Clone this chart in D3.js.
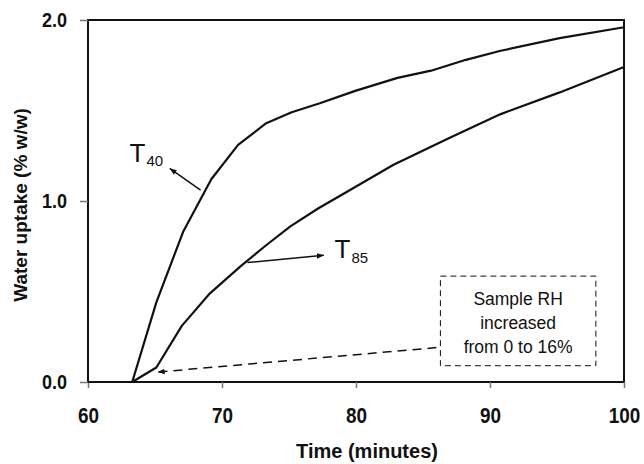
<!DOCTYPE html>
<html>
<head>
<meta charset="utf-8">
<script src="https://cdn.jsdelivr.net/npm/d3@7"></script>
<style>
  body { margin: 0; background: #fff; }
  svg { display: block; font-family: "Liberation Sans", Arial, sans-serif; }
</style>
</head>
<body>
<div id="chart"></div>
<script>
(function () {
  // ---- data ----
  const xTicks = [60, 70, 80, 90, 100];
  const yTicks = [0, 1, 2];

  const t40Time  = [60, 63.3, 65.1, 67.1, 69.2, 71.2, 73.3, 75.2, 77.3, 80, 83.1, 85.6, 88.2, 90.8, 95.2, 100];
  const t40Value = [0, 0, 0.44, 0.83, 1.12, 1.31, 1.43, 1.49, 1.54, 1.61, 1.68, 1.72, 1.78, 1.83, 1.90, 1.96];

  const t85Time  = [63.3, 65.1, 67.0, 69.1, 71.4, 73.2, 75.1, 77.2, 79.3, 82.8, 87.0, 90.8, 95.2, 100];
  const t85Value = [0, 0.08, 0.31, 0.49, 0.64, 0.75, 0.86, 0.96, 1.05, 1.20, 1.35, 1.48, 1.60, 1.74];

  const boxLines = ["Sample RH", "increased", "from 0 to 16%"];

  // ---- layout ----
  const W = 644, H = 464;
  const margin = { top: 20, right: 20, bottom: 82, left: 88 };
  const iw = W - margin.left - margin.right;
  const ih = H - margin.top - margin.bottom;

  const x = d3.scaleLinear().domain([60, 100]).range([0, iw]);
  const y = d3.scaleLinear().domain([0, 2]).range([ih, 0]);

  const svg = d3.select("#chart").append("svg")
    .attr("width", W).attr("height", H);

  const defs = svg.append("defs");
  defs.append("marker")
    .attr("id", "arrow")
    .attr("viewBox", "0 0 10 10")
    .attr("refX", 10).attr("refY", 5)
    .attr("markerWidth", 7).attr("markerHeight", 7)
    .attr("markerUnits", "userSpaceOnUse")
    .attr("orient", "auto")
    .append("path")
    .attr("d", "M0,1 L10,5 L0,9 Z")
    .attr("fill", "#111");

  const g = svg.append("g")
    .attr("transform", `translate(${margin.left},${margin.top})`);

  // squeeze text horizontally around its anchor (narrow bold look)
  function condense(sel, k) {
    sel.each(function () {
      const t = d3.select(this);
      const tx = +t.attr("x") || 0;
      const ty = +t.attr("y") || 0;
      t.attr("transform", `translate(${tx},${ty}) scale(${k},1) translate(${-tx},${-ty})`);
    });
  }

  // ---- frame ----
  g.append("rect")
    .attr("x", 0).attr("y", 0)
    .attr("width", iw).attr("height", ih)
    .attr("fill", "none")
    .attr("stroke", "#111")
    .attr("stroke-width", 2);

  // ---- axes ----
  const xAxis = g.append("g")
    .attr("transform", `translate(0,${ih})`)
    .call(d3.axisBottom(x).tickValues(xTicks).tickSize(6).tickPadding(19).tickFormat(d3.format("d")));
  xAxis.select(".domain").remove();
  xAxis.selectAll(".tick line").attr("stroke", "#777").attr("stroke-width", 1.5);
  xAxis.selectAll("text")
    .attr("fill", "#111")
    .style("font-size", "22px")
    .style("font-weight", "bold")
    .call(condense, 0.86);

  const yAxis = g.append("g")
    .call(d3.axisLeft(y).tickValues(yTicks).tickSize(8).tickPadding(13).tickFormat(d3.format(".1f")));
  yAxis.select(".domain").remove();
  yAxis.selectAll(".tick line").attr("stroke", "#777").attr("stroke-width", 1.5);
  yAxis.selectAll("text")
    .attr("fill", "#111")
    .style("font-size", "21px")
    .style("font-weight", "bold")
    .call(condense, 0.86);

  // ---- axis titles ----
  svg.append("text")
    .attr("x", margin.left + iw / 2 + 11)
    .attr("y", 458)
    .attr("text-anchor", "middle")
    .style("font-size", "20px")
    .style("font-weight", "bold")
    .attr("fill", "#111")
    .text("Time (minutes)");

  svg.append("text")
    .attr("transform", `translate(27,${margin.top + ih / 2 + 4}) rotate(-90)`)
    .attr("text-anchor", "middle")
    .style("font-size", "19px")
    .style("font-weight", "bold")
    .attr("fill", "#111")
    .text("Water uptake (% w/w)");

  // ---- curves ----
  const line = d3.line().x(d => x(d[0])).y(d => y(d[1]));
  const series = [
    d3.zip(t40Time, t40Value),
    d3.zip(t85Time, t85Value)
  ];
  g.selectAll(".curve")
    .data(series)
    .enter()
    .append("path")
    .attr("class", "curve")
    .attr("d", line)
    .attr("fill", "none")
    .attr("stroke", "#111")
    .attr("stroke-width", 2.2)
    .attr("stroke-linejoin", "round");

  // ---- annotations ----
  function arrow(x1, y1, x2, y2, dashed) {
    g.append("line")
      .attr("x1", x(x1)).attr("y1", y(y1))
      .attr("x2", x(x2)).attr("y2", y(y2))
      .attr("stroke", "#111")
      .attr("stroke-width", 1.5)
      .attr("stroke-dasharray", dashed ? "9,6" : null)
      .attr("marker-end", "url(#arrow)");
  }

  function subLabel(tx, ty, sub, dy) {
    const t = g.append("text")
      .attr("x", x(tx)).attr("y", y(ty))
      .attr("fill", "#111")
      .style("font-size", "26px");
    t.append("tspan").text("T");
    t.append("tspan")
      .attr("dy", dy)
      .attr("dx", 1)
      .style("font-size", "15px")
      .text(sub);
  }

  arrow(68.4, 1.06, 66.1, 1.18, false);
  subLabel(63.1, 1.215, "40", 4);

  arrow(71.9, 0.66, 77.6, 0.70, false);
  subLabel(78.4, 0.685, "85", 5);

  // RH box
  const bx0 = 86.3, bx1 = 97.9, by0 = 0.585, by1 = 0.09;
  const bcx = (x(bx0) + x(bx1)) / 2;
  g.append("rect")
    .attr("x", x(bx0)).attr("y", y(by0))
    .attr("width", x(bx1) - x(bx0))
    .attr("height", y(by1) - y(by0))
    .attr("fill", "none")
    .attr("stroke", "#111")
    .attr("stroke-width", 1)
    .attr("stroke-dasharray", "6,4");

  g.append("text")
    .attr("x", bcx)
    .attr("y", y(by0) + 29)
    .attr("text-anchor", "middle")
    .attr("fill", "#111")
    .style("font-size", "17.5px")
    .selectAll("tspan")
    .data(boxLines)
    .enter()
    .append("tspan")
    .attr("x", bcx)
    .attr("dy", (d, i) => i === 0 ? 0 : 24)
    .text(d => d);

  arrow(86.0, 0.19, 65.2, 0.055, true);
})();
</script>
</body>
</html>
